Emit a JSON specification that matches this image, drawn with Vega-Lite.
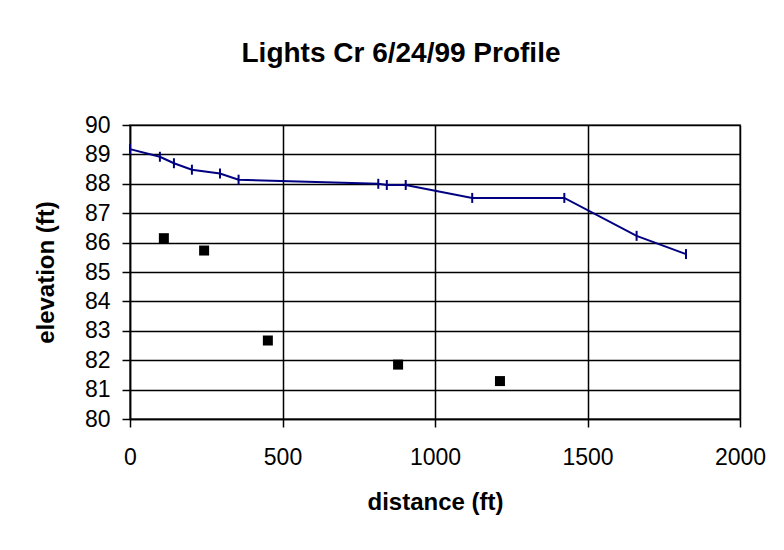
{
  "$schema": "https://vega.github.io/schema/vega-lite/v6.json",
  "width": 610,
  "height": 294,
  "autosize": {"type": "none"},
  "padding": {"left": 130, "top": 125, "right": 44, "bottom": 131},
  "background": "white",
  "title": {
    "text": "Lights Cr 6/24/99 Profile",
    "font": "Liberation Sans",
    "fontSize": 28,
    "fontWeight": "bold",
    "color": "black",
    "anchor": "middle",
    "dx": -34,
    "offset": 46
  },
  "datasets": {
    "profile": [
      {"distance": 0, "elevation": 89.18},
      {"distance": 98, "elevation": 88.92},
      {"distance": 144, "elevation": 88.70},
      {"distance": 203, "elevation": 88.48},
      {"distance": 295, "elevation": 88.35},
      {"distance": 356, "elevation": 88.14},
      {"distance": 814, "elevation": 88.00},
      {"distance": 842, "elevation": 87.96},
      {"distance": 904, "elevation": 87.96},
      {"distance": 1122, "elevation": 87.52},
      {"distance": 1424, "elevation": 87.52},
      {"distance": 1661, "elevation": 86.23},
      {"distance": 1823, "elevation": 85.61}
    ],
    "bed": [
      {"distance": 111, "elevation": 86.15},
      {"distance": 243, "elevation": 85.73},
      {"distance": 452, "elevation": 82.67},
      {"distance": 879, "elevation": 81.85},
      {"distance": 1213, "elevation": 81.29}
    ]
  },
  "config": {
    "view": {"stroke": "#808080", "strokeWidth": 2},
    "axis": {
      "domainColor": "black",
      "domainWidth": 1.5,
      "gridColor": "black",
      "gridWidth": 1.5,
      "gridOpacity": 1,
      "tickColor": "black",
      "tickWidth": 1.5,
      "tickSize": 8,
      "labelFont": "Liberation Sans",
      "labelFontSize": 23,
      "labelColor": "black",
      "titleFont": "Liberation Sans",
      "titleFontSize": 24,
      "titleFontWeight": "bold",
      "titleColor": "black"
    }
  },
  "encoding": {
    "x": {
      "field": "distance",
      "type": "quantitative",
      "scale": {"domain": [0, 2000], "nice": false, "zero": false},
      "axis": {"values": [0, 500, 1000, 1500, 2000], "format": "d", "title": "distance (ft)", "labelPadding": 19, "titlePadding": 21, "labelFlush": false}
    },
    "y": {
      "field": "elevation",
      "type": "quantitative",
      "scale": {"domain": [80, 90], "nice": false, "zero": false},
      "axis": {"values": [80, 81, 82, 83, 84, 85, 86, 87, 88, 89, 90], "format": "d", "title": "elevation (ft)", "labelPadding": 12, "titlePadding": 26, "labelFlush": false}
    }
  },
  "layer": [
    {
      "data": {"name": "profile"},
      "mark": {"type": "line", "color": "#000080", "strokeWidth": 2}
    },
    {
      "data": {"name": "profile"},
      "mark": {"type": "point", "shape": "M0,-1L0,1", "size": 100, "filled": false, "color": "#000080", "strokeWidth": 2, "opacity": 1}
    },
    {
      "data": {"name": "bed"},
      "mark": {"type": "point", "shape": "square", "size": 100, "filled": true, "color": "black", "opacity": 1}
    }
  ]
}
